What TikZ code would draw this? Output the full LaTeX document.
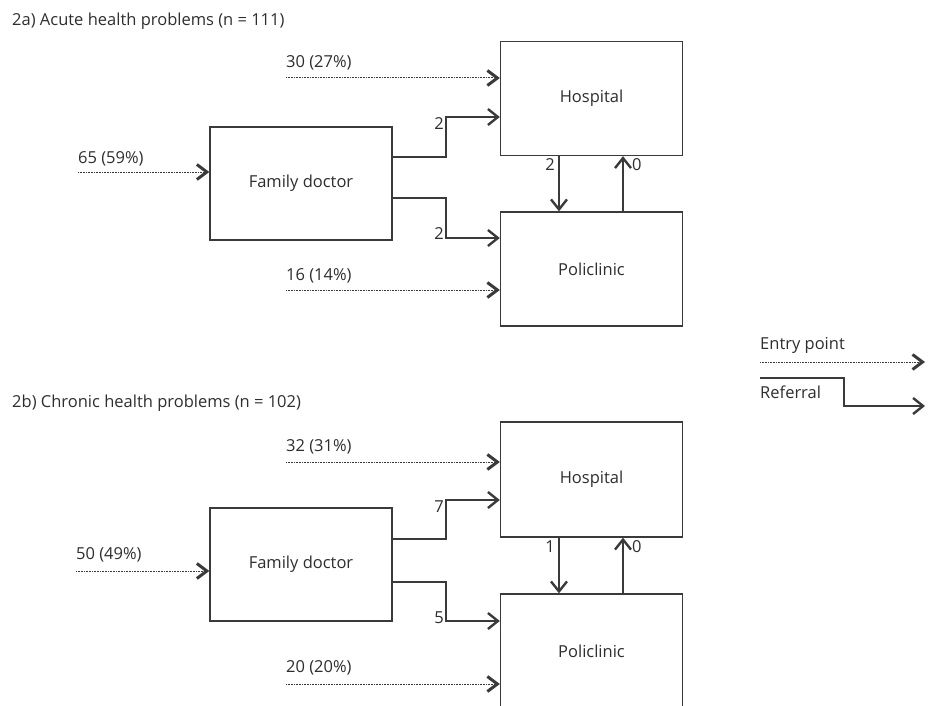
\documentclass[tikz,border=0pt]{standalone}
\usepackage{fontspec}
\setmainfont{Open Sans}
\usetikzlibrary{arrows.meta}
\definecolor{ink}{HTML}{2E2E2E}
\definecolor{lin}{HTML}{3A3A3A}
\begin{document}
\begin{tikzpicture}[x=1pt,y=-1pt,
  every node/.style={text=ink,font=\fontsize{16.5}{19}\selectfont,inner sep=0pt},
  boxnode/.style={draw=lin,line width=1.3pt,fill=white},
  refline/.style={draw=lin,line width=1.3pt,-{Straight Barb[length=10pt,width=16pt,line width=2.4pt]}},
  entryline/.style={draw=lin,line width=1pt,dash pattern=on 0.8pt off 0.8pt,-{Straight Barb[length=10pt,width=15pt,line width=3pt]}}]
\useasboundingbox (0,0) rectangle (928,706);
\clip (0,0) rectangle (928,706);

% ---------- 2a ----------
\node[anchor=base west] (t1) at (12,26) {2a) Acute health problems (n = 111)};
\node[boxnode,minimum width=182pt,minimum height=114pt] (h1) at (591.5,98.5) {Hospital};
\node[boxnode,minimum width=182pt,minimum height=113pt] (f1) at (301,183.5) {Family doctor};
\node[boxnode,minimum width=182pt,minimum height=114pt] (p1) at (591.5,269) {Policlinic};

\coordinate (e1) at (286,78);
\node[anchor=base west] (le1) at (286,68) {30 (27\%)};
\draw[entryline] (e1) -- (h1.west |- e1);
\coordinate (e2) at (78,172);
\node[anchor=base west] (le2) at (78,163) {65 (59\%)};
\draw[entryline] (e2) -- (f1.west |- e2);
\coordinate (e3) at (286,290);
\node[anchor=base west] (le3) at (286,280) {16 (14\%)};
\draw[entryline] (e3) -- (p1.west |- e3);

\coordinate (a1) at (446,157); \coordinate (a2) at (446,117);
\draw[refline] (f1.east |- a1) -- (a1) -- (a2) -- (h1.west |- a2);
\node[anchor=base east] (la1) at (444,129) {2};
\coordinate (b1) at (446,198); \coordinate (b2) at (446,238);
\draw[refline] (f1.east |- b1) -- (b1) -- (b2) -- (p1.west |- b2);
\node[anchor=base east] (lb1) at (444,239) {2};

\coordinate (v1) at (559,0); \coordinate (w1) at (623,0);
\draw[refline] (h1.south -| v1) -- (p1.north -| v1);
\node[anchor=base east] (lv1) at (555,170) {2};
\draw[refline] (p1.north -| w1) -- (h1.south -| w1);
\node[anchor=base west] (lw1) at (632,170) {0};

% ---------- legend ----------
\node[anchor=base west] (lg1) at (760,349) {Entry point};
\coordinate (g1) at (760,362); \coordinate (g2) at (925,362);
\draw[entryline] (g1) -- (g2);
\node[anchor=base west] (lg2) at (760,398) {Referral};
\coordinate (g3) at (760,378); \coordinate (g4) at (844,378);
\coordinate (g5) at (844,406); \coordinate (g6) at (925,406);
\draw[refline] (g3) -- (g4) -- (g5) -- (g6);

% ---------- 2b ----------
\node[anchor=base west] (t2) at (12,407) {2b) Chronic health problems (n = 102)};
\node[boxnode,minimum width=182pt,minimum height=115pt] (h2) at (591.5,479.5) {Hospital};
\node[boxnode,minimum width=182pt,minimum height=113pt] (f2) at (301,564.5) {Family doctor};
\node[boxnode,minimum width=182pt,minimum height=114pt] (p2) at (591.5,651) {Policlinic};

\coordinate (e4) at (286,462);
\node[anchor=base west] (le4) at (286,451) {32 (31\%)};
\draw[entryline] (e4) -- (h2.west |- e4);
\coordinate (e5) at (76,571);
\node[anchor=base west] (le5) at (76,559) {50 (49\%)};
\draw[entryline] (e5) -- (f2.west |- e5);
\coordinate (e6) at (286,684);
\node[anchor=base west] (le6) at (286,672) {20 (20\%)};
\draw[entryline] (e6) -- (p2.west |- e6);

\coordinate (a3) at (446,539); \coordinate (a4) at (446,500);
\draw[refline] (f2.east |- a3) -- (a3) -- (a4) -- (h2.west |- a4);
\node[anchor=base east] (la3) at (444,512) {7};
\coordinate (b3) at (446,582); \coordinate (b4) at (446,621);
\draw[refline] (f2.east |- b3) -- (b3) -- (b4) -- (p2.west |- b4);
\node[anchor=base east] (lb3) at (444,623) {5};

\coordinate (v2) at (559,0); \coordinate (w2) at (623,0);
\draw[refline] (h2.south -| v2) -- (p2.north -| v2);
\node[anchor=base east] (lv2) at (555,552) {1};
\draw[refline] (p2.north -| w2) -- (h2.south -| w2);
\node[anchor=base west] (lw2) at (632,552) {0};
\end{tikzpicture}
\end{document}
